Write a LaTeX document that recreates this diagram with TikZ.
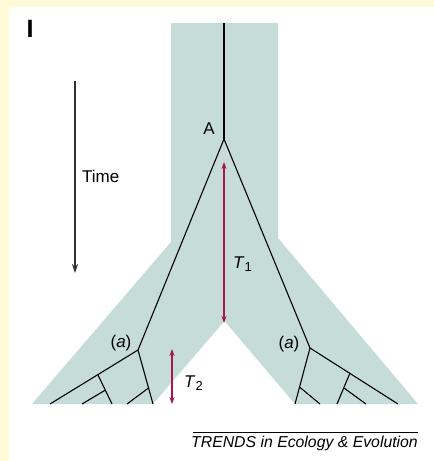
\documentclass[tikz,border=0pt]{standalone}
\usepackage{fontspec}
\setmainfont{Liberation Sans}
\usetikzlibrary{arrows.meta}
\definecolor{bgyellow}{HTML}{FFFBD6}
\definecolor{band}{HTML}{C6DCD8}
\definecolor{arrowred}{HTML}{A3174E}
\newcommand{\lowsub}[1]{\raisebox{-0.4ex}{\fontsize{13}{13}\selectfont #1}}
\tikzset{
  branch/.style={line width=1.1pt, black},
  span/.style={line width=1.1pt, arrowred, {Stealth[length=7pt,width=5pt]}-{Stealth[length=7pt,width=5pt]}},
  lbl/.style={font=\fontsize{17}{17}\selectfont, inner sep=0pt},
}
\begin{document}
\begin{tikzpicture}[x=1pt,y=-1pt]
\useasboundingbox (0,0) rectangle (434,461);
\fill[bgyellow] (0,0) rectangle (434,461);
\fill[white] (9,7) rectangle (434,461);
% band
\fill[band] (171,23) -- (278,23) -- (278,238) -- (418,404) -- (295,404) -- (224.5,321) -- (153,404) -- (32,404) -- (171,242) -- cycle;
% panel label
\node[font=\bfseries\fontsize{25}{25}\selectfont, inner sep=0pt] (panel) at (30,29) {I};
% time arrow
\coordinate (t0) at (75,81);
\coordinate (t1) at (75,273);
\draw[line width=1.1pt, black!80, -{Stealth[length=9pt,width=6pt]}] (t0) -- (t1);
\node[lbl, anchor=west] (time) at (82,176) {Time};
% tree vertices
\coordinate (root) at (224,23);
\coordinate (A) at (224,139);
\coordinate (La) at (138,350);
\coordinate (Ra) at (310,348);
% left subtree
\coordinate (L1) at (50,404);
\coordinate (L2) at (153,404);
\coordinate (L3) at (98,375);
\coordinate (L4) at (112,404);
\coordinate (L5) at (105.5,390);
\coordinate (L6) at (82,404);
\coordinate (L7) at (148.5,388);
\coordinate (L8) at (127,404);
% right subtree
\coordinate (R1) at (295,404);
\coordinate (R2) at (398,404);
\coordinate (R3) at (350,373);
\coordinate (R4) at (337,404);
\coordinate (R5) at (344,388);
\coordinate (R6) at (366,404);
\coordinate (R7) at (299.5,387);
\coordinate (R8) at (320,404);
\draw[branch] (root) -- (A);
\draw[branch] (A) -- (La);
\draw[branch] (A) -- (Ra);
\draw[branch] (La) -- (L1);
\draw[branch] (La) -- (L2);
\draw[branch] (L3) -- (L4);
\draw[branch] (L5) -- (L6);
\draw[branch] (L7) -- (L8);
\draw[branch] (Ra) -- (R1);
\draw[branch] (Ra) -- (R2);
\draw[branch] (R3) -- (R4);
\draw[branch] (R5) -- (R6);
\draw[branch] (R7) -- (R8);
% labels
\node[lbl] (Alab) at (209,128.5) {A};
\node[lbl] (aL) at (121,343) {(\textit{a})};
\node[lbl] (aR) at (289,344) {(\textit{a})};
% T1, T2
\coordinate (T1top) at (224,162);
\coordinate (T1bot) at (224,323);
\draw[span] (T1top) -- (T1bot);
\node[lbl, anchor=west] (T1lab) at (233,264) {\textit{T}\lowsub{1}};
\coordinate (T2top) at (172,349);
\coordinate (T2bot) at (172,404);
\draw[span] (T2top) -- (T2bot);
\node[lbl, anchor=west] (T2lab) at (184,383) {\textit{T}\lowsub{2}};
% footer
\coordinate (ol0) at (193,432);
\coordinate (ol1) at (418,432);
\draw[line width=0.8pt, black] (ol0) -- (ol1);
\node[font=\itshape\fontsize{15.8}{16}\selectfont, inner sep=0pt, anchor=base east] (footer) at (418,447) {TRENDS in Ecology \& Evolution};
\end{tikzpicture}
\end{document}
